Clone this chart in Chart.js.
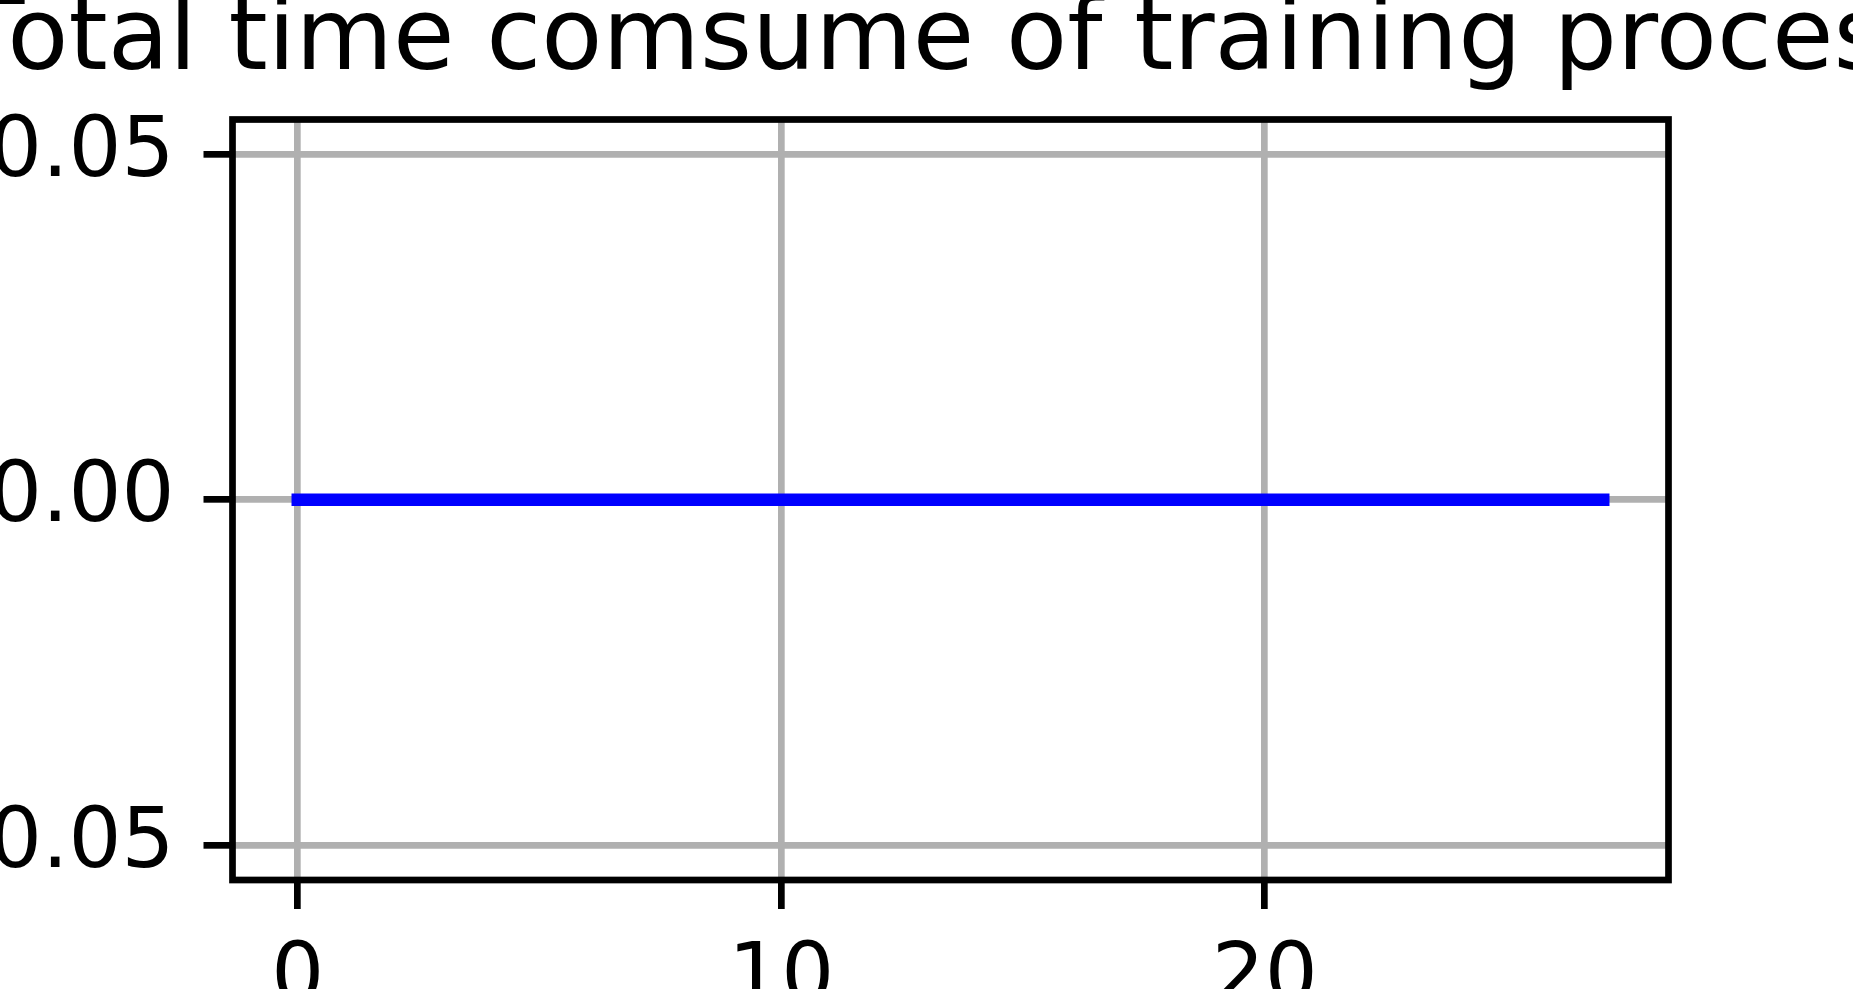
<!DOCTYPE html>
<html><head><meta charset="utf-8">
<script src="https://cdn.jsdelivr.net/npm/chart.js@4.4.1/dist/chart.umd.min.js"></script>
<style>html,body{margin:0;padding:0;background:#fff;overflow:hidden}canvas{display:block}</style>
</head><body>
<canvas id="c" width="1853" height="989" style="width:1853px;height:989px"></canvas>
<script>
const titleText = 'Total time comsume of training process';
const epochs = [0,1,2,3,4,5,6,7,8,9,10,11,12,13,14,15,16,17,18,19,20,21,22,23,24,25,26,27];
const totalTime = [0,0,0,0,0,0,0,0,0,0,0,0,0,0,0,0,0,0,0,0,0,0,0,0,0,0,0,0];
const xTickValues = [0,10,20];
const xTickLabels = ['0','10','20'];
const yTickValues = [-0.05,0,0.05];
const yTickLabels = ['\u22120.05','0.00','0.05'];
const xRange = [-1.35, 28.35];
const yRange = [-0.055, 0.055];

const FONT = 'DejaVu Sans';
const LW = 6.7;

const framePlugin = {
  id: 'frame',
  afterLayout(chart) {
    // centre the title over the plot area, without squeezing it
    const t = chart.titleBlock, a = chart.chartArea;
    if (t) {
      const cx = (a.left + a.right) / 2;
      t.left = cx - 2000; t.right = cx + 2000; t.width = 4000;
    }
  },
  afterDatasetsDraw(chart) {
    const a = chart.chartArea, ctx = chart.ctx;
    ctx.save();
    ctx.lineWidth = LW;
    ctx.strokeStyle = '#000';
    ctx.lineJoin = 'miter';
    ctx.strokeRect(a.left, a.top, a.right - a.left, a.bottom - a.top);
    ctx.restore();
  }
};

new Chart(document.getElementById('c'), {
  type: 'line',
  data: {
    datasets: [{
      data: epochs.map((e, i) => ({x: e, y: totalTime[i]})),
      borderColor: '#0000ff',
      borderWidth: 12.5,
      borderCapStyle: 'square',
      pointRadius: 0,
      tension: 0,
      fill: false
    }]
  },
  plugins: [framePlugin],
  options: {
    responsive: false,
    animation: false,
    devicePixelRatio: 1,
    layout: { padding: { left: 0, right: 184.5, top: 0, bottom: 0 } },
    plugins: {
      legend: { display: false },
      tooltip: { enabled: false },
      title: {
        display: true,
        text: titleText,
        color: '#000',
        font: { family: FONT, size: 100, weight: 'normal', lineHeight: 0.768 },
        padding: { top: 5, bottom: 37.7 }
      }
    },
    scales: {
      x: {
        type: 'linear',
        min: xRange[0], max: xRange[1],
        afterBuildTicks: s => { s.ticks = xTickValues.map(v => ({value: v})); },
        afterFit: s => { s.height = 109; },
        grid: { color: '#b0b0b0', lineWidth: LW, tickColor: '#000', tickWidth: LW, tickLength: 29 },
        border: { display: false },
        ticks: {
          color: '#000', padding: 21, maxRotation: 0, autoSkip: false,
          font: { family: FONT, size: 83.3 },
          callback: (v, i) => xTickLabels[i]
        }
      },
      y: {
        type: 'linear',
        min: yRange[0], max: yRange[1],
        afterBuildTicks: s => { s.ticks = yTickValues.map(v => ({value: v})); },
        afterFit: s => { s.width = 232.5; },
        grid: { color: '#b0b0b0', lineWidth: LW, tickColor: '#000', tickWidth: LW, tickLength: 29 },
        border: { display: false },
        ticks: {
          color: '#000', padding: 29, autoSkip: false,
          font: { family: FONT, size: 83.3 },
          callback: (v, i) => yTickLabels[i]
        }
      }
    }
  }
});
</script>
</body></html>
